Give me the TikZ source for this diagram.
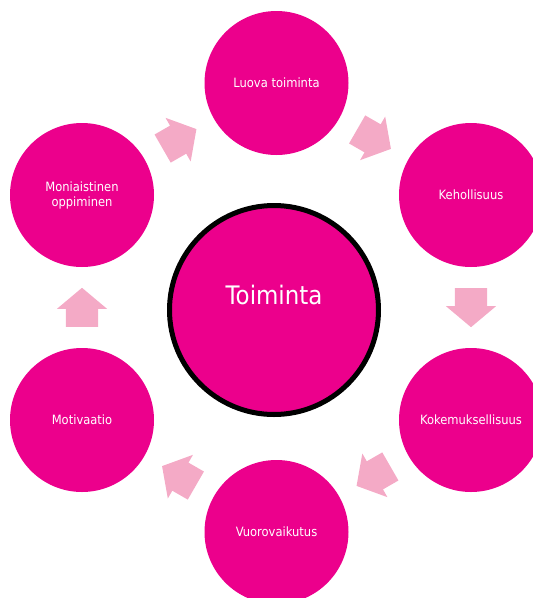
\documentclass[tikz,border=0pt]{standalone}
\usepackage{fontspec}
\setmainfont{DejaVu Sans}[FakeStretch=0.9]
\usetikzlibrary{shapes.arrows}
\definecolor{pinkki}{RGB}{236,0,140}
\definecolor{vaalea}{RGB}{244,170,198}
\begin{document}
\begin{tikzpicture}[x=1pt,y=-1pt]
  %
  \tikzstyle{pallo} = [circle, fill=pinkki, minimum size=144pt, inner sep=0pt, text=white, font=\fontsize{12.8}{15}\selectfont, align=center]
  \tikzstyle{nuoli} = [single arrow, fill=vaalea, minimum height=39pt, minimum width=50pt, single arrow head extend=9pt, single arrow tip angle=100, inner xsep=0pt, inner ysep=16pt, sloped, allow upside down, anchor=tail, pos=0.258]
  \useasboundingbox (0,0) rectangle (533,598);
  \node[circle, draw=black, line width=5pt, fill=pinkki, minimum size=209pt] (toiminta) at (274,310) {};
  \node[text=white, font=\fontsize{25.5}{30}\selectfont] (otsikko) at ([yshift=15pt]toiminta.center) {Toiminta};
  %
  \node[pallo] (luova) at (276.5,83) {Luova toiminta};
  \node[pallo] (keho) at (471,195) {Kehollisuus};
  \node[pallo] (kokemus) at (471,420) {Kokemuksellisuus};
  \node[pallo] (vuoro) at (276.5,532) {Vuorovaikutus};
  \node[pallo] (moti) at (82,420) {Motivaatio};
  \node[pallo] (moni) at (82,195) {Moniaistinen\\oppiminen};
  %
  \path (moni) -- node[nuoli] {} (luova);
  \path (luova) -- node[nuoli] {} (keho);
  \path (keho) -- node[nuoli] {} (kokemus);
  \path (kokemus) -- node[nuoli] {} (vuoro);
  \path (vuoro) -- node[nuoli] {} (moti);
  \path (moti) -- node[nuoli] {} (moni);
\end{tikzpicture}
\end{document}
